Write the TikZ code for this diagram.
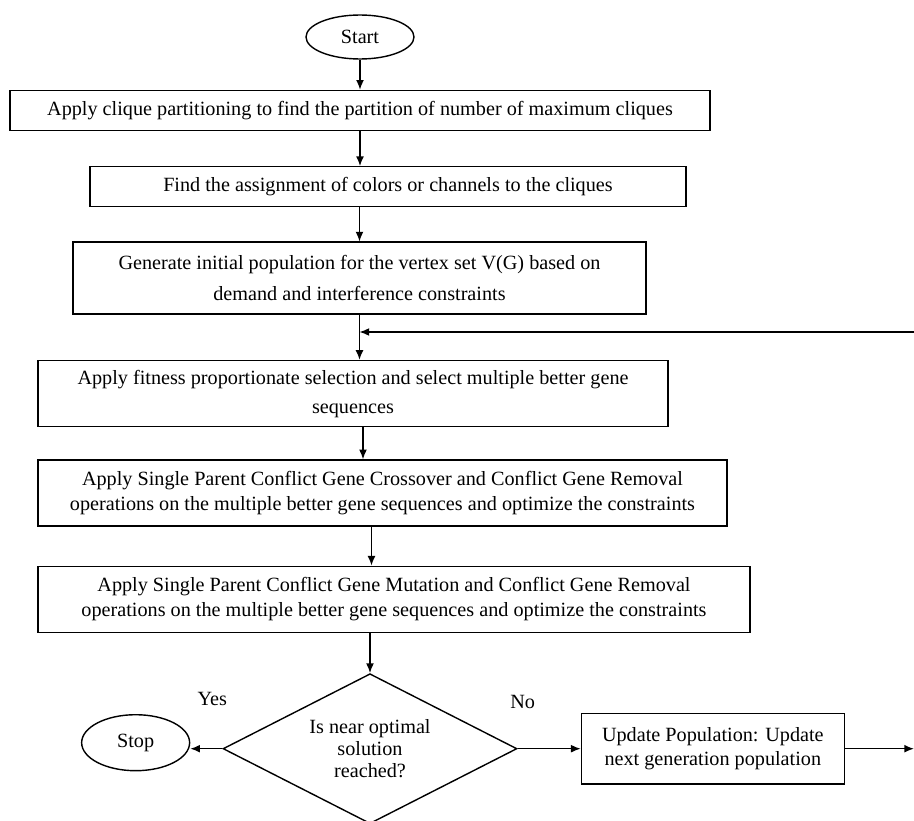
\documentclass[tikz,border=0pt]{standalone}
\usepackage{fontspec}
\setmainfont{Liberation Serif}
\usetikzlibrary{arrows.meta,positioning,shapes.geometric}
\begin{document}
\begin{tikzpicture}[x=0.02cm, y=-0.02cm,
  every node/.style={font=\fontsize{11.5}{14}\selectfont},
  box/.style={draw, thick, rectangle, align=center, inner sep=2pt},
  term/.style={draw, thick, ellipse, inner sep=0pt},
  line/.style={thick, -{Latex[length=5.5pt,width=4.5pt]}}]
\useasboundingbox (0,0) rectangle (914,821);
\node [term, minimum width=2.16cm, minimum height=0.88cm] at (360,37) (a) {Start};
\node [box, below=0.6cm of a, minimum width=14cm, minimum height=0.8cm] (b) {Apply clique partitioning to find the partition of number of maximum cliques};
\node [box, below=0.7cm of b, xshift=0.56cm, minimum width=11.92cm, minimum height=0.8cm] (c) {Find the assignment of colors or channels to the cliques};
\node [box, below=0.68cm of c, xshift=-0.57cm, minimum width=11.46cm, minimum height=1.44cm, font=\fontsize{11.5}{18}\selectfont] (d) {Generate initial population for the vertex set V(G) based on\\demand and interference constraints};
\node [box, below=0.9cm of d, xshift=-0.13cm, minimum width=12.6cm, minimum height=1.32cm, font=\fontsize{11.5}{16.5}\selectfont] (e) {Apply fitness proportionate selection and select multiple better gene\\sequences};
\node [box, below=0.64cm of e, xshift=0.59cm, minimum width=13.78cm, minimum height=1.32cm] (f) {Apply Single Parent Conflict Gene Crossover and Conflict Gene Removal\\operations on the multiple better gene sequences and optimize the constraints};
\node [box, below=0.78cm of f, xshift=0.23cm, minimum width=14.24cm, minimum height=1.32cm] (g) {Apply Single Parent Conflict Gene Mutation and Conflict Gene Removal\\operations on the multiple better gene sequences and optimize the constraints};
\node [draw, thick, diamond, aspect=2, inner sep=0pt, align=center, minimum width=5.88cm, minimum height=3cm, below=0.8cm of g, xshift=-0.48cm, font=\fontsize{11.5}{12.5}\selectfont] (h) {Is near optimal\\solution\\reached?};
\node [term, left=0.64cm of h, yshift=0.12cm, minimum width=2.16cm, minimum height=1.12cm] (i) {Stop};
\node [box, right=1.26cm of h, minimum width=5.26cm, minimum height=1.42cm] (j) {Update Population: Update\\next generation population};
\node [above=0.74cm of h.west, xshift=-0.2cm] (k) {Yes};
\node [above=0.68cm of h.east, xshift=0.1cm] (l) {No};
\coordinate (m) at (914,332);

\draw [line] (a)--(b);
\draw [line] (b)--(b |- c.north);
\draw [line] (c.south -| d)--(d);
\draw [line] (d)--(d |- e.north);
\draw [line] ([xshift=0.2cm]e.south)--([xshift=0.2cm]e.south |- f.north);
\draw [line] ([xshift=-0.22cm]f.south)--([xshift=-0.22cm]f.south |- g.north);
\draw [line] (g.south -| h)--(h);
\draw [line] (h.west)--(h.west -| i.east);
\draw [line] (h)--(j);
\draw [line] (j)--(j -| m);
\draw [line] (m)--(m -| d);
\end{tikzpicture}
\end{document}
